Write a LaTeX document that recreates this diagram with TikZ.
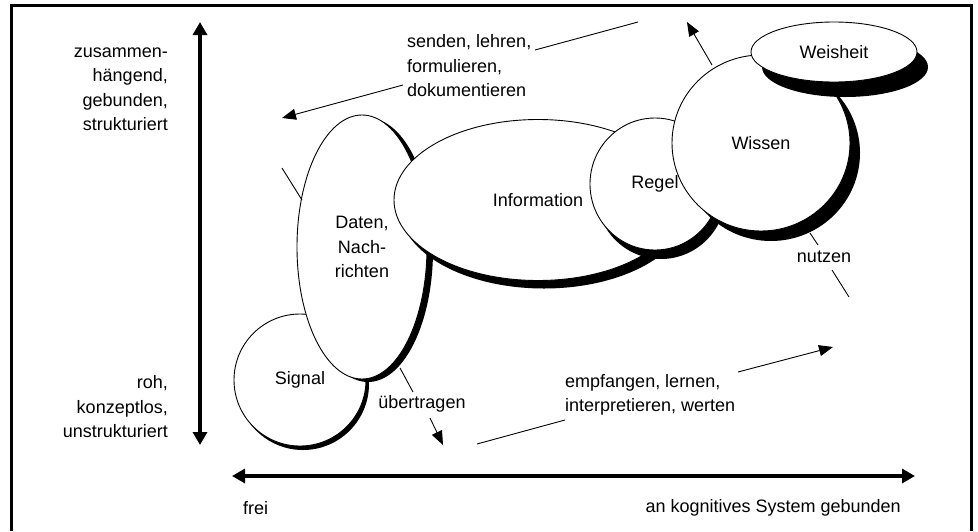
\documentclass[tikz,border=0pt]{standalone}
\usepackage{fontspec}
\setmainfont{Liberation Sans}
\usetikzlibrary{shapes.geometric,shadows,arrows.meta}
\begin{document}
\begin{tikzpicture}[x=1pt,y=-1pt,
  txt/.style={inner sep=0pt, font=\fontsize{18}{24.5}\selectfont},
  blob/.style={ellipse, draw=black, line width=0.9pt, fill=white, inner sep=0pt,
               align=center, txt},
  shade/.style 2 args={general shadow={fill=black, shadow xshift=#1pt, shadow yshift=-#2pt}},
  flow/.style={line width=0.9pt},
  flowarrow/.style={line width=0.9pt, -{Triangle[length=14pt,width=11pt]}},
  axisarrow/.style={line width=4.5pt,
    {Triangle[length=13pt,width=14pt]}-{Triangle[length=13pt,width=14pt]}}]

\useasboundingbox (0,0) rectangle (978,531);

% frame
\draw[line width=3pt] (11,531) -- (11,5) -- (971,5) -- (971,531);

% axes
\coordinate (ytop) at (200,22);
\coordinate (ybot) at (200,445);
\coordinate (xleft) at (232,476);
\coordinate (xright) at (915,476);
\draw[axisarrow] (ybot) -- (ytop);
\draw[axisarrow] (xleft) -- (xright);

% axis labels
\node[txt, align=right, anchor=east] (ylabhi) at (168,89)
  {zusammen-\\hängend,\\gebunden,\\strukturiert};
\node[txt, align=right, anchor=east] (ylablo) at (168,407)
  {roh,\\konzeptlos,\\unstrukturiert};
\node[txt, anchor=west] (xlabl) at (243,508) {frei};
\node[txt, anchor=east] (xlabr) at (901,508) {an kognitives System gebunden};

% the chain of concepts, back to front
\node[blob, shade={3}{4}, minimum width=132pt, minimum height=132pt]
  (sig) at (300,380) {Signal};
\node[blob, shade={6}{3}, minimum width=130pt, minimum height=264pt]
  (dat) at (362,247) {Daten,\\Nach-\\richten};
\node[blob, shade={6}{8}, minimum width=288pt, minimum height=161pt]
  (inf) at (538,200) {Information};
\node[blob, shade={6}{9}, minimum width=130pt, minimum height=132pt]
  (reg) at (655,184) {Regel};
\node[blob, shade={10}{10}, minimum width=178pt, minimum height=176pt]
  (wis) at (761,143) {Wissen};
\node[blob, shade={11}{15}, minimum width=166pt, minimum height=60pt]
  (wei) at (834,52) {Weisheit};

% passing knowledge on
\coordinate (s1) at (638,22);
\coordinate (s2) at (535,50);
\coordinate (s3) at (403,85);
\coordinate (s4) at (282,118);
\node[txt, align=left, anchor=west] (send) at (407,66)
  {senden, lehren,\\formulieren,\\dokumentieren};
\draw[flow] (s1) -- (s2);
\draw[flowarrow] (s3) -- (s4);
\coordinate (d0) at (282,168);
\coordinate (d1) at (302,200);
\draw[flow] (d0) -- (d1);

% transmission
\coordinate (u1) at (400,368);
\coordinate (u2) at (413,392);
\coordinate (u3) at (430,418);
\coordinate (u4) at (443,445);
\node[txt] (ueb) at (422,404) {übertragen};
\draw[flow] (u1) -- (u2);
\draw[flowarrow] (u3) -- (u4);

% receiving
\coordinate (e1) at (477,444);
\coordinate (e2) at (565,420);
\coordinate (e3) at (738,372);
\coordinate (e4) at (833,347);
\node[txt, align=left, anchor=west] (emp) at (565,395)
  {empfangen, lernen,\\interpretieren, werten};
\draw[flow] (e1) -- (e2);
\draw[flowarrow] (e3) -- (e4);

% using
\coordinate (n1) at (810,233);
\coordinate (n2) at (818,245);
\coordinate (n3) at (832,270);
\coordinate (n4) at (849,297);
\node[txt] (nut) at (824,257) {nutzen};
\draw[flow] (n1) -- (n2);
\draw[flow] (n3) -- (n4);

% from knowledge upwards
\coordinate (w1) at (712,65);
\coordinate (w2) at (687,22);
\draw[flowarrow] (w1) -- (w2);
\end{tikzpicture}
\end{document}
